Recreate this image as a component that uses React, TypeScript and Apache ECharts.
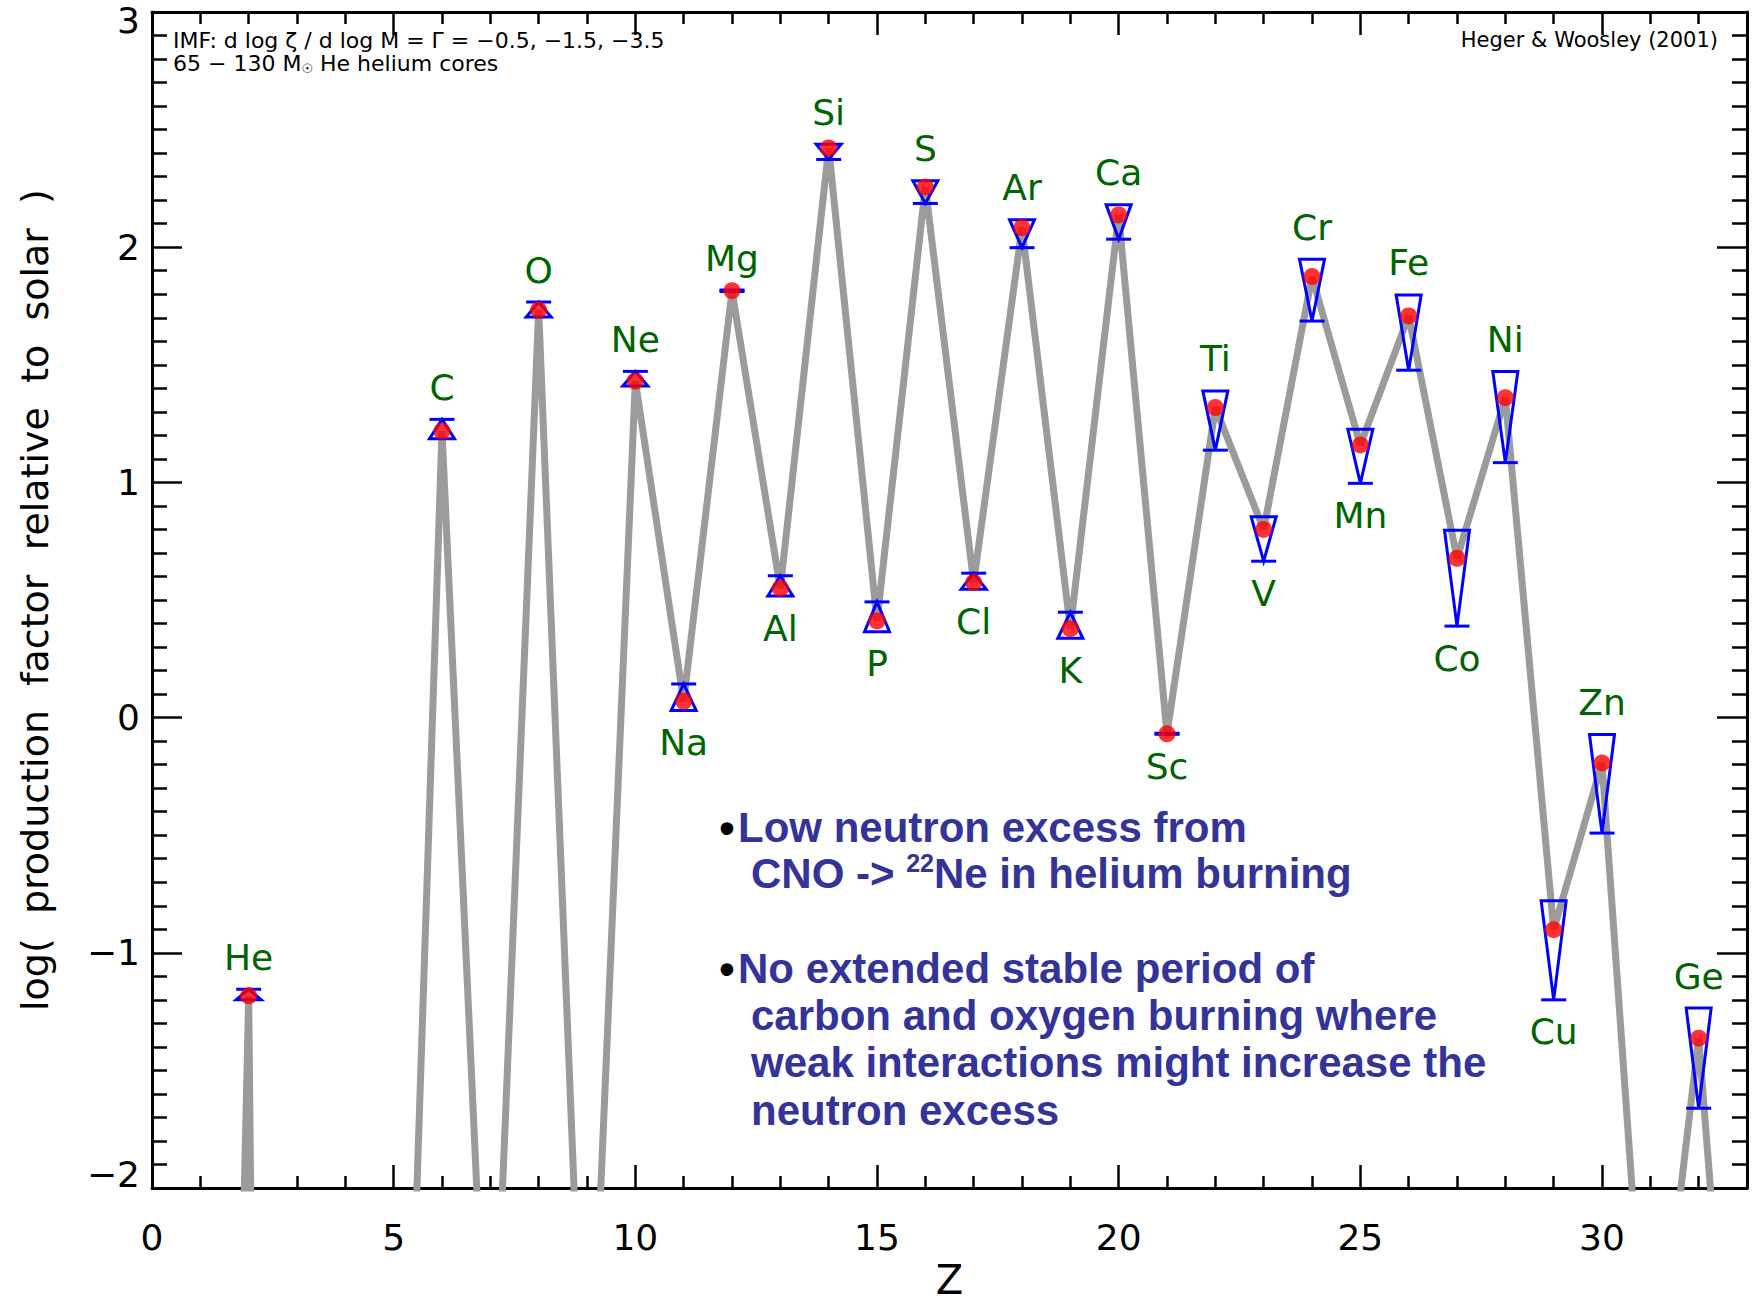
import React, { useEffect, useRef } from "react";
import * as echarts from "echarts";

// Atomic number and element symbol for every point of the grey line
const atomicNumbers = [1, 2, 3, 4, 5, 6, 7, 8, 9, 10, 11, 12, 13, 14, 15, 16, 17, 18, 19, 20, 21, 22, 23, 24, 25, 26, 27, 28, 29, 30, 31, 32, 33];
const elementSymbols = ["H", "He", "Li", "Be", "B", "C", "N", "O", "F", "Ne", "Na", "Mg", "Al", "Si", "P", "S", "Cl", "Ar", "K", "Ca", "Sc", "Ti", "V", "Cr", "Mn", "Fe", "Co", "Ni", "Cu", "Zn", "Ga", "Ge", "As"];
// log production factor (IMF slope -1.5) (off-scale values estimated from slopes)
const logProduction = [-10.4, -1.183, -21, -20, -4.98, 1.218, -3.26, 1.733, -3.37, 1.431, 0.069, 1.815, 0.549, 2.422, 0.411, 2.256, 0.574, 2.083, 0.378, 2.137, -0.069, 1.318, 0.8, 1.875, 1.159, 1.708, 0.677, 1.36, -0.902, -0.193, -3.1, -1.363, -3.98];

// Elements drawn with a red dot, error wedge and label
const shownElements = ["He", "C", "O", "Ne", "Na", "Mg", "Al", "Si", "P", "S", "Cl", "Ar", "K", "Ca", "Sc", "Ti", "V", "Cr", "Mn", "Fe", "Co", "Ni", "Cu", "Zn", "Ge"];
// wide end of wedge (IMF slope -0.5)
const imfShallow = [-1.2, 1.186, 1.703, 1.41, 0.03, 1.812, 0.517, 2.438, 0.365, 2.283, 0.546, 2.117, 0.337, 2.181, -0.067, 1.389, 0.854, 1.949, 1.226, 1.797, 0.797, 1.471, -0.779, -0.072, -1.235];
// capped point of wedge (IMF slope -3.5)
const imfSteep = [-1.155, 1.268, 1.767, 1.472, 0.143, 1.818, 0.603, 2.373, 0.492, 2.186, 0.614, 1.998, 0.448, 2.034, -0.071, 1.137, 0.665, 1.686, 0.996, 1.477, 0.389, 1.084, -1.2, -0.491, -1.661];
// label placement: 1 = above, -1 = below
const labelSide = [1, 1, 1, 1, -1, 1, -1, 1, -1, 1, -1, 1, -1, 1, -1, 1, -1, 1, -1, 1, -1, 1, -1, 1, 1];

const xMin = 0;
const xMax = 33;
const yMin = -2;
const yMax = 3;

const fmtMinus = (v: number) => (v < 0 ? "\u2212" + Math.abs(v) : String(v));

export default function App() {
  const ref = useRef<HTMLDivElement>(null);

  useEffect(() => {
    if (!ref.current) return;
    const chart = echarts.init(ref.current, undefined, { renderer: "svg" });

    const lineData = atomicNumbers.map((z, i) => [z, logProduction[i]]);
    const zOf = (s: string) => atomicNumbers[elementSymbols.indexOf(s)];
    const midOf = (s: string) => logProduction[elementSymbols.indexOf(s)];
    const dotData = shownElements.map((s) => [zOf(s), midOf(s)]);
    const wedgeData = shownElements.map((s, i) => [zOf(s), imfShallow[i], imfSteep[i], labelSide[i]]);

    const axisLine = { show: true, onZero: false, lineStyle: { color: "#000", width: 3 } };
    const tickStyle = { color: "#000", width: 2.5 };
    const labelFont = { fontFamily: "DejaVu Sans", fontSize: 36, color: "#000" };

    const option: any = {
      animation: false,
      backgroundColor: "#fff",
      grid: { left: 152, top: 12, right: 9, bottom: 114, containLabel: false, outerBoundsMode: "none" },
      xAxis: [
        {
          type: "value",
          min: xMin,
          max: xMax,
          interval: 5,
          position: "bottom",
          name: "Z",
          nameLocation: "middle",
          nameGap: 72,
          nameTextStyle: { fontFamily: "DejaVu Sans", fontSize: 40, lineHeight: 38, color: "#000" },
          axisLine,
          axisTick: { show: true, inside: true, length: 23, lineStyle: tickStyle },
          minorTick: { show: true, splitNumber: 5, length: 12, lineStyle: tickStyle },
          axisLabel: {
            margin: 31,
            ...labelFont,
            formatter: (v: number) => (v % 5 === 0 ? fmtMinus(v) : ""),
          },
          splitLine: { show: false },
        },
        {
          type: "value",
          min: xMin,
          max: xMax,
          interval: 5,
          position: "top",
          axisLine,
          axisTick: { show: true, inside: true, length: 23, lineStyle: tickStyle },
          minorTick: { show: true, splitNumber: 5, length: 12, lineStyle: tickStyle },
          axisLabel: { show: false },
          splitLine: { show: false },
        },
      ],
      yAxis: [
        {
          type: "value",
          min: yMin,
          max: yMax,
          interval: 1,
          position: "left",
          name: "log(  production  factor  relative  to  solar  )",
          nameLocation: "middle",
          nameGap: 98,
          nameTextStyle: { fontFamily: "DejaVu Sans", fontSize: 38, color: "#000" },
          axisLine,
          axisTick: { show: true, inside: true, length: 30, lineStyle: tickStyle },
          minorTick: { show: true, splitNumber: 10, length: 15, lineStyle: tickStyle },
          axisLabel: {
            margin: 12,
            ...labelFont,
            formatter: (v: number) =>
              v === yMax ? "{top|" + fmtMinus(v) + "}" : v === yMin ? "{bot|" + fmtMinus(v) + "}" : fmtMinus(v),
            rich: {
              top: { ...labelFont, padding: [16, 0, 0, 0] },
              bot: { ...labelFont, padding: [0, 0, 28, 0] },
            },
          },
          splitLine: { show: false },
        },
        {
          type: "value",
          min: yMin,
          max: yMax,
          interval: 1,
          position: "right",
          axisLine,
          axisTick: { show: true, inside: true, length: 30, lineStyle: tickStyle },
          minorTick: { show: true, splitNumber: 10, length: 15, lineStyle: tickStyle },
          axisLabel: { show: false },
          splitLine: { show: false },
        },
      ],
      series: [
        {
          type: "line",
          data: lineData,
          xAxisIndex: 0,
          yAxisIndex: 0,
          showSymbol: false,
          clip: true,
          z: 1,
          lineStyle: { color: "#9b9b9b", width: 7, join: "bevel" },
        },
        {
          type: "custom",
          data: wedgeData,
          xAxisIndex: 0,
          yAxisIndex: 0,
          z: 2,
          clip: false,
          encode: { x: 0, y: [1, 2] },
          renderItem: (params: any, api: any) => {
            const z = api.value(0);
            const pw = api.coord([z, api.value(1)]);
            const pc = api.coord([z, api.value(2)]);
            const side = api.value(3);
            const hw = 12.5;
            const top = Math.min(pw[1], pc[1]);
            const bottom = Math.max(pw[1], pc[1]);
            const name = shownElements[params.dataIndex];
            return {
              type: "group",
              children: [
                {
                  type: "polygon",
                  shape: { points: [[pw[0] - hw, pw[1]], [pw[0] + hw, pw[1]], [pc[0], pc[1]]] },
                  style: { fill: "none", stroke: "#0000ff", lineWidth: 3 },
                },
                {
                  type: "line",
                  shape: { x1: pc[0] - hw, y1: pc[1], x2: pc[0] + hw, y2: pc[1] },
                  style: { stroke: "#0000ff", lineWidth: 3 },
                },
                {
                  type: "text",
                  style: {
                    text: name,
                    x: pw[0],
                    y: side > 0 ? top - 32 : bottom + 32,
                    align: "center",
                    verticalAlign: "middle",
                    font: '36px "DejaVu Sans"',
                    fill: "#006400",
                  },
                },
              ],
            };
          },
        },
        {
          type: "scatter",
          data: dotData,
          xAxisIndex: 0,
          yAxisIndex: 0,
          symbol: "circle",
          symbolSize: 17,
          z: 3,
          itemStyle: { color: "#ff0000" },
        },
      ],
      graphic: [
        {
          type: "text",
          x: 173,
          y: 40,
          style: {
            text: "IMF: d log \u03b6 / d log M = \u0393 = \u22120.5, \u22121.5, \u22123.5",
            font: '22px "DejaVu Sans"',
            fill: "#000",
            verticalAlign: "middle",
          },
        },
        {
          type: "text",
          x: 173,
          y: 63,
          style: {
            text: "{t|65 \u2212 130 M}{s|\u2609}{t| He helium cores}",
            verticalAlign: "middle",
            rich: {
              t: { font: '22px "DejaVu Sans"', fill: "#000", lineHeight: 24 },
              s: { font: '13px "DejaVu Sans"', fill: "#000", lineHeight: 14, verticalAlign: "bottom" },
            },
          },
        },
        {
          type: "text",
          x: 1718,
          y: 40,
          style: {
            text: "Heger & Woosley (2001)",
            font: '21px "DejaVu Sans"',
            fill: "#000",
            align: "right",
            verticalAlign: "middle",
          },
        },
        { type: "text", x: 727, y: 827, style: { text: "\u2022", font: 'bold 44px "Liberation Sans"', fill: "#000", align: "center", verticalAlign: "middle" } },
        { type: "text", x: 738, y: 827, style: { text: "Low neutron excess from", font: 'bold 42px "Liberation Sans"', fill: "#333399", verticalAlign: "middle" } },
        {
          type: "text",
          x: 751,
          y: 873,
          style: {
            text: "{t|CNO -> }{s|22}{t|Ne in helium burning}",
            verticalAlign: "middle",
            rich: {
              t: { font: 'bold 42px "Liberation Sans"', fill: "#333399", lineHeight: 46 },
              s: { font: 'bold 25px "Liberation Sans"', fill: "#333399", lineHeight: 30, verticalAlign: "top" },
            },
          },
        },
        { type: "text", x: 727, y: 968, style: { text: "\u2022", font: 'bold 44px "Liberation Sans"', fill: "#000", align: "center", verticalAlign: "middle" } },
        { type: "text", x: 738, y: 968, style: { text: "No extended stable period of", font: 'bold 42px "Liberation Sans"', fill: "#333399", verticalAlign: "middle" } },
        { type: "text", x: 751, y: 1015, style: { text: "carbon and oxygen burning where", font: 'bold 42px "Liberation Sans"', fill: "#333399", verticalAlign: "middle" } },
        { type: "text", x: 751, y: 1062, style: { text: "weak interactions might increase the", font: 'bold 42px "Liberation Sans"', fill: "#333399", verticalAlign: "middle" } },
        { type: "text", x: 751, y: 1110, style: { text: "neutron excess", font: 'bold 42px "Liberation Sans"', fill: "#333399", verticalAlign: "middle" } },
      ],
    };

    chart.setOption(option);
    return () => chart.dispose();
  }, []);

  return <div ref={ref} style={{ position: "absolute", left: 0, top: 0, width: 1756, height: 1302 }} />;
}
